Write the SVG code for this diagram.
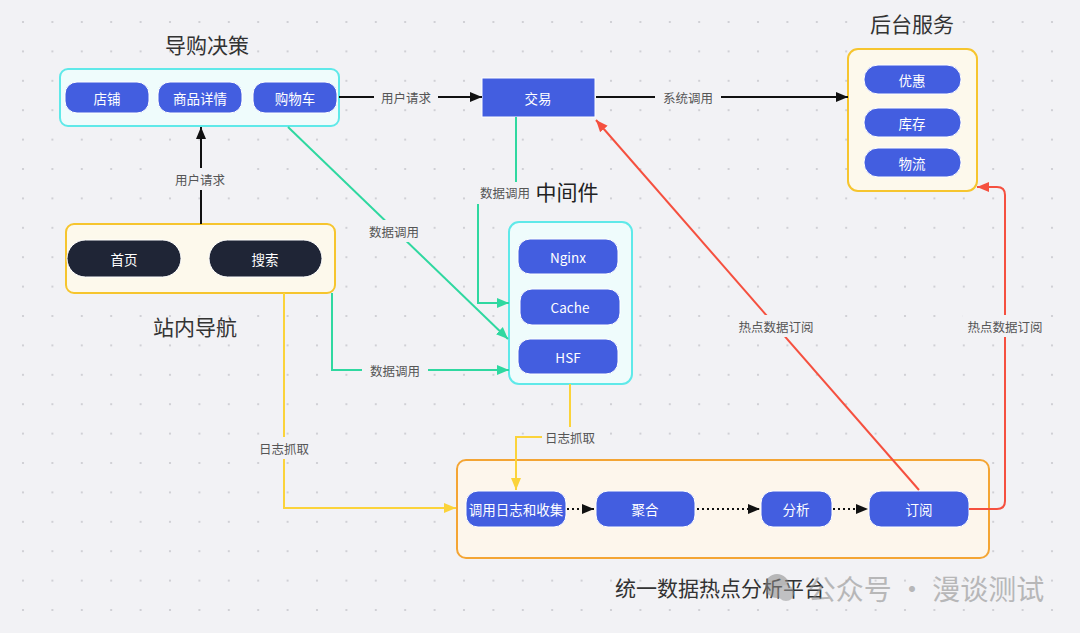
<svg xmlns="http://www.w3.org/2000/svg" width="1080" height="633" viewBox="0 0 1080 633">
<style>
text{font-family:"Noto Sans CJK SC","Noto Sans",sans-serif;dominant-baseline:central;text-anchor:middle}
.title{font-size:21px;fill:#333}
.lbl{font-size:12.5px;fill:#555}
.btn{fill:#435ee0;stroke:#fff;stroke-width:1}
.dark{fill:#1f2536;stroke:#fff;stroke-width:1}
.bt{font-size:13.5px;fill:#fff}
.cyanbox{fill:#effcfc;stroke:#5fe9e9;stroke-width:2}
.yelbox{fill:#fdf9ec;stroke:#f6c52e;stroke-width:2}
.orgbox{fill:#fdf6ec;stroke:#f4a534;stroke-width:2}
.k{stroke:#111;stroke-width:2;fill:none}
.g{stroke:#2fd8a0;stroke-width:2;fill:none}
.y{stroke:#fbd33a;stroke-width:2;fill:none}
.r{stroke:#f5503f;stroke-width:2;fill:none}
.d{stroke:#111;stroke-width:2;fill:none;stroke-dasharray:2 3}
.bg{fill:#f2f2f5}
</style>
<defs>
<pattern id="dots" x="8.3" y="7.3" width="29.4" height="29.4" patternUnits="userSpaceOnUse">
<circle cx="14.7" cy="14.7" r="1.1" fill="#c9c9ce"/>
</pattern>
<marker id="ak" markerUnits="userSpaceOnUse" markerWidth="12" markerHeight="12" refX="12" refY="6" orient="auto"><path d="M0,1 L12,6 L0,11 z" fill="#111"/></marker>
<marker id="ag" markerUnits="userSpaceOnUse" markerWidth="12" markerHeight="12" refX="12" refY="6" orient="auto"><path d="M0,1 L12,6 L0,11 z" fill="#2fd8a0"/></marker>
<marker id="ay" markerUnits="userSpaceOnUse" markerWidth="12" markerHeight="12" refX="12" refY="6" orient="auto"><path d="M0,1 L12,6 L0,11 z" fill="#fbd33a"/></marker>
<marker id="ar" markerUnits="userSpaceOnUse" markerWidth="12" markerHeight="12" refX="12" refY="6" orient="auto"><path d="M0,1 L12,6 L0,11 z" fill="#f5503f"/></marker>
</defs>
<rect width="1080" height="633" fill="#f2f2f5"/>
<rect width="1080" height="633" fill="url(#dots)"/>

<g id="daogou">
<text class="title" x="207" y="44">导购决策</text>
<rect class="cyanbox" x="60" y="69" width="279" height="57" rx="8"/>
<rect class="btn" x="65" y="82" width="84" height="31" rx="12"/><text class="bt" x="107" y="97.5">店铺</text>
<rect class="btn" x="158" y="82" width="84" height="31" rx="12"/><text class="bt" x="200" y="97.5">商品详情</text>
<rect class="btn" x="253" y="82" width="84" height="31" rx="12"/><text class="bt" x="295" y="97.5">购物车</text>
</g>

<g id="jiaoyi">
<rect x="482" y="78" width="113" height="39" fill="#435ee0" stroke="#fff" stroke-width="1"/>
<text class="bt" x="538" y="97.5">交易</text>
</g>

<g id="houtai">
<text class="title" x="912" y="23">后台服务</text>
<rect class="yelbox" x="848" y="49" width="129" height="142" rx="10"/>
<rect class="btn" x="864" y="65" width="97" height="29" rx="14"/><text class="bt" x="912" y="79.5">优惠</text>
<rect class="btn" x="864" y="108" width="97" height="29" rx="14"/><text class="bt" x="912" y="122.5">库存</text>
<rect class="btn" x="864" y="148" width="97" height="29" rx="14"/><text class="bt" x="912" y="162.5">物流</text>
</g>

<g id="zhannei">
<rect class="yelbox" x="66" y="224" width="269" height="69" rx="8"/>
<rect class="dark" x="67" y="240" width="114" height="37" rx="18.5"/><text class="bt" x="124" y="258.5">首页</text>
<rect class="dark" x="209" y="240" width="113" height="37" rx="18.5"/><text class="bt" x="265" y="258.5">搜索</text>
<text class="title" x="195" y="326">站内导航</text>
</g>

<g id="zhongjian">
<text class="title" x="567" y="191" style="fill:#222">中间件</text>
<rect class="cyanbox" x="509" y="222" width="123" height="162" rx="10"/>
<rect class="btn" x="518" y="239" width="100" height="35" rx="12"/><text class="bt" x="568" y="256.5">Nginx</text>
<rect class="btn" x="520" y="289" width="100" height="36" rx="12"/><text class="bt" x="570" y="307">Cache</text>
<rect class="btn" x="518" y="339" width="100" height="35" rx="12"/><text class="bt" x="568" y="356.5">HSF</text>
</g>

<g id="pingtai">
<rect class="orgbox" x="457" y="460" width="532" height="98" rx="9"/>
<rect class="btn" x="466" y="491" width="100" height="36" rx="12"/><text class="bt" x="516" y="509">调用日志和收集</text>
<rect class="btn" x="596" y="491" width="99" height="36" rx="12"/><text class="bt" x="645" y="509">聚合</text>
<rect class="btn" x="761" y="491" width="71" height="36" rx="12"/><text class="bt" x="796" y="509">分析</text>
<rect class="btn" x="869" y="491" width="100" height="36" rx="12"/><text class="bt" x="919" y="509">订阅</text>
<text class="title" x="720" y="587">统一数据热点分析平台</text>
</g>

<g id="connectors">
<line class="k" x1="339" y1="97" x2="482" y2="97" marker-end="url(#ak)"/>
<rect class="bg" x="374" y="88" width="64" height="18"/><text class="lbl" x="406" y="97">用户请求</text>
<line class="k" x1="596" y1="97" x2="848" y2="97" marker-end="url(#ak)"/>
<rect class="bg" x="655" y="88" width="66" height="18"/><text class="lbl" x="688" y="97">系统调用</text>
<line class="k" x1="201" y1="224" x2="201" y2="127" marker-end="url(#ak)"/>
<rect class="bg" x="168" y="168" width="66" height="22"/><text class="lbl" x="200" y="179">用户请求</text>

<path class="g" d="M516,117 V193 H478 V303 H509" marker-end="url(#ag)"/>
<rect class="bg" x="476" y="182" width="60" height="22"/><text class="lbl" x="505" y="192">数据调用</text>
<line class="g" x1="288" y1="127" x2="508" y2="339" marker-end="url(#ag)"/>
<rect class="bg" x="364" y="220" width="62" height="22"/><text class="lbl" x="394" y="231">数据调用</text>
<path class="g" d="M332,293 V370 H509" marker-end="url(#ag)"/>
<rect class="bg" x="362" y="361" width="66" height="18"/><text class="lbl" x="395" y="370">数据调用</text>

<path class="y" d="M284,293 V508 H456" marker-end="url(#ay)"/>
<rect class="bg" x="254" y="437" width="60" height="22"/><text class="lbl" x="284" y="448">日志抓取</text>
<path class="y" d="M570,384 V437 H516 V490" marker-end="url(#ay)"/>
<rect class="bg" x="542" y="427" width="56" height="22"/><text class="lbl" x="570" y="437">日志抓取</text>

<line class="r" x1="919" y1="490" x2="596" y2="120" marker-end="url(#ar)"/>
<rect class="bg" x="734" y="315" width="84" height="22"/><text class="lbl" x="776" y="326">热点数据订阅</text>
<path class="r" d="M969,509 H997 Q1005,509 1005,501 V195 Q1005,187 997,187 H977" marker-end="url(#ar)"/>
<rect class="bg" x="963" y="315" width="84" height="22"/><text class="lbl" x="1005" y="326">热点数据订阅</text>

<line class="d" x1="567" y1="509" x2="594" y2="509" marker-end="url(#ak)"/>
<line class="d" x1="697" y1="509" x2="760" y2="509" marker-end="url(#ak)"/>
<line class="d" x1="833" y1="509" x2="868" y2="509" marker-end="url(#ak)"/>
</g>

<g id="watermark" opacity="0.55">
<circle cx="777" cy="586" r="12" fill="#888"/>
<circle cx="786" cy="593" r="8" fill="#999"/>
<text x="926" y="588" style="font-size:28px;fill:#888">公众号 · 漫谈测试</text>
</g>
</svg>
